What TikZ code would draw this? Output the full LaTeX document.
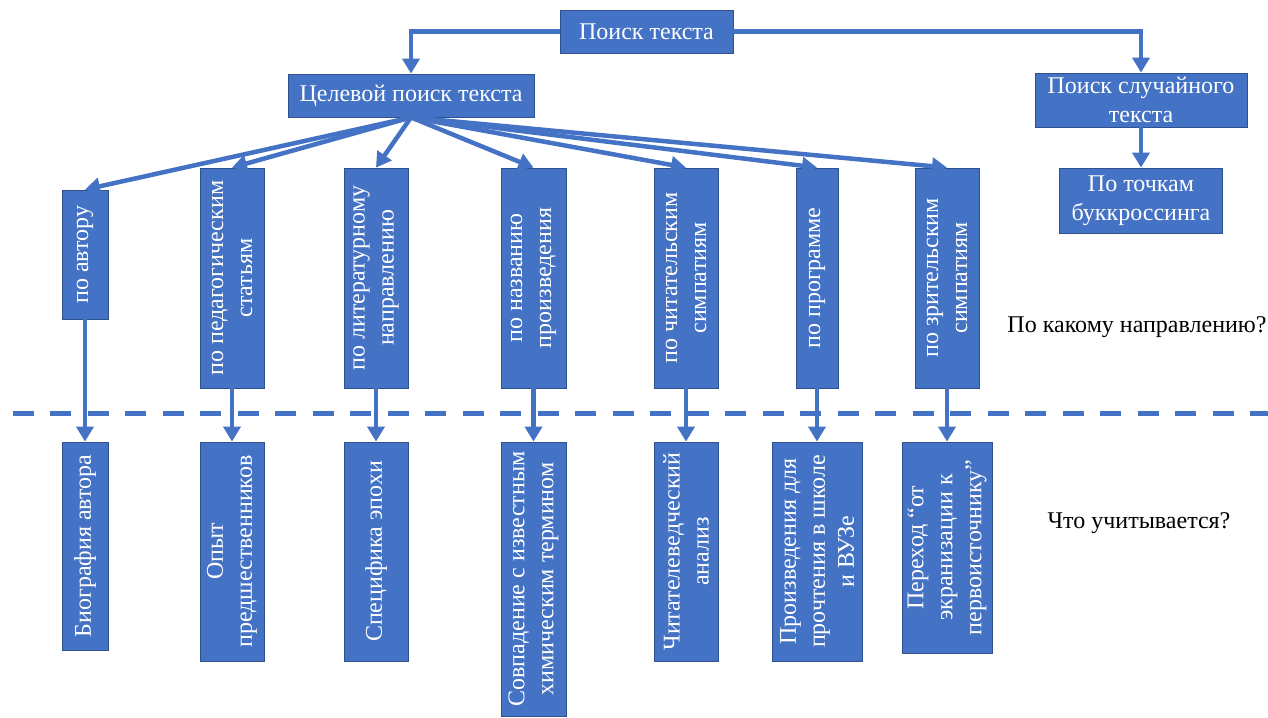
\documentclass[tikz,border=0pt]{standalone}
\usepackage{fontspec}
\setmainfont{Liberation Serif}
\newfontfamily\tnr{Liberation Serif}
\usetikzlibrary{arrows.meta}
\definecolor{obl}{HTML}{4472C4}
\definecolor{obd}{HTML}{2F528F}
\begin{document}
\begin{tikzpicture}[x=1pt,y=1pt,
  box/.style={draw=obd, line width=0.8pt, fill=obl, text=white, inner sep=0pt, align=center, font=\tnr\fontsize{24}{29}\selectfont},
  vbox/.style={box, rotate=90},
  conn/.style={draw=obl, line width=4.5pt, -{Triangle[length=15pt,width=17pt]}},
  lbl/.style={text=black, inner sep=0pt, font=\tnr\fontsize{24}{29}\selectfont},
  sep/.style={draw=obl, line width=5pt, dash pattern=on 21pt off 16.5pt}
]
\useasboundingbox (0,0) rectangle (1268,-717);
% separator
\coordinate (s0) at (12.5,-413);
\coordinate (s1) at (1268,-413);
\draw[sep] (s0) -- (s1);
% top boxes
\node[box, minimum width=173pt, minimum height=43pt] (p0) at (646.5,-31.5) {Поиск текста};
\node[box, minimum width=246pt, minimum height=43pt] (p1) at (411,-95.5) {Целевой поиск текста};
\node[box, minimum width=212pt, minimum height=54pt] (p2) at (1141,-100) {Поиск случайного\\текста};
\node[box, minimum width=163pt, minimum height=65pt] (p3) at (1141,-200.5) {По точкам\\буккроссинга};
% upper vertical boxes
\node[vbox, minimum width=129pt, minimum height=46pt] (a1) at (85,-254.5) {по автору};
\node[vbox, minimum width=220pt, minimum height=64pt] (a2) at (232,-278) {по педагогическим\\статьям};
\node[vbox, minimum width=220pt, minimum height=64pt] (a3) at (376,-278) {по литературному\\направлению};
\node[vbox, minimum width=220pt, minimum height=65pt] (a4) at (533.5,-278) {по названию\\произведения};
\node[vbox, minimum width=220pt, minimum height=64pt] (a5) at (686,-278) {по читательским\\симпатиям};
\node[vbox, minimum width=220pt, minimum height=42pt] (a6) at (817,-278) {по программе};
\node[vbox, minimum width=220pt, minimum height=64pt] (a7) at (947,-278) {по зрительским\\симпатиям};
% lower vertical boxes
\node[vbox, minimum width=208pt, minimum height=46pt] (b1) at (85,-546) {Биография автора};
\node[vbox, minimum width=219pt, minimum height=64pt] (b2) at (232,-551.5) {Опыт\\предшественников};
\node[vbox, minimum width=219pt, minimum height=64pt] (b3) at (376,-551.5) {Специфика эпохи};
\node[vbox, minimum width=274pt, minimum height=65pt] (b4) at (533.5,-579) {Совпадение с известным\\химическим термином};
\node[vbox, minimum width=219pt, minimum height=64pt] (b5) at (686,-551.5) {Читателеведческий\\анализ};
\node[vbox, minimum width=219pt, minimum height=90pt] (b6) at (817,-551.5) {Произведения для\\прочтения в школе\\и ВУЗе};
\node[vbox, minimum width=211pt, minimum height=90pt] (b7) at (947,-547.5) {Переход “от\\экранизации к\\первоисточнику”};
% side labels
\node[lbl] (q1) at (1137,-327) {По какому направлению?};
\node[lbl] (q2) at (1139,-523) {Что учитывается?};
% connectors
\draw[conn] (p0.west) -| (p1.north);
\draw[conn] (p0.east) -| (p2.north);
\draw[conn] (p2.south) -- (p3.north);
\foreach \t in {a1,a2,a3,a4,a5,a6,a7}{
  \draw[conn] (p1.south) -- (\t.east);
}
\draw[conn] (a1.west) -- (b1.east);
\draw[conn] (a2.west) -- (b2.east);
\draw[conn] (a3.west) -- (b3.east);
\draw[conn] (a4.west) -- (b4.east);
\draw[conn] (a5.west) -- (b5.east);
\draw[conn] (a6.west) -- (b6.east);
\draw[conn] (a7.west) -- (b7.east);
\end{tikzpicture}
\end{document}
